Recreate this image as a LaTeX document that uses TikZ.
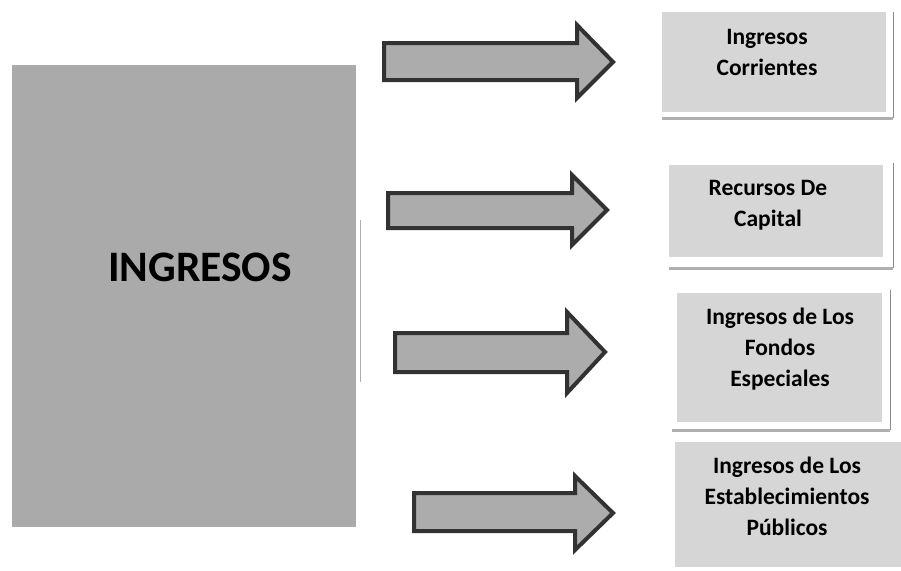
\documentclass[tikz,border=0pt]{standalone}
\usepackage{fontspec}
\setmainfont{Carlito}
\definecolor{bigfill}{RGB}{170,170,170}
\definecolor{smallfill}{RGB}{214,214,214}
\definecolor{arrowfill}{RGB}{172,172,172}
\definecolor{arrowline}{RGB}{50,50,50}
\definecolor{shadowcol}{RGB}{175,175,175}
\begin{document}
\begin{tikzpicture}[x=1pt,y=-1pt,
  bigbox/.style={fill=bigfill,draw=none,inner sep=0pt,anchor=north west},
  smallbox/.style={fill=smallfill,draw=none,inner sep=0pt,anchor=north west},
  boxtext/.style={font=\fontsize{23.5}{31}\selectfont\bfseries,align=center,inner sep=0pt,text=black},
  blockarrow/.style={fill=arrowfill,draw=arrowline,line width=4pt,line join=miter},
  shadowline/.style={draw=shadowcol,line width=3pt},
  edgeline/.style={draw=shadowcol!80!black,line width=0.8pt}]
\useasboundingbox (0,0) rectangle (901,570);
\fill[white] (0,0) rectangle (901,570);
% main box
\node[bigbox,minimum width=344pt,minimum height=462pt] (ing) at (12,65) {};
\node[font=\fontsize{43.5}{50}\selectfont\bfseries,inner sep=0pt] (ingt) at (200,267) {INGRESOS};
\draw[draw=shadowcol,line width=1pt] (360,220) -- (360,382);
% small boxes
\node[smallbox,minimum width=224pt,minimum height=100pt] (b1) at (662,12) {};
\node[smallbox,minimum width=214pt,minimum height=92pt] (b2) at (669,165) {};
\node[smallbox,minimum width=205pt,minimum height=129pt] (b3) at (677,293) {};
\node[smallbox,minimum width=226pt,minimum height=125pt] (b4) at (675,442) {};
% shadows / edges
\draw[shadowline] (662,118) -- (893,118);
\draw[edgeline] (893,12) -- (893,118);
\draw[shadowline] (669,268) -- (893,268);
\draw[edgeline] (893,163) -- (893,268);
\draw[shadowline] (672,430) -- (890,430);
\draw[edgeline] (890,290) -- (890,430);
% texts
\node[boxtext] (t1) at (767,52) {Ingresos\\Corrientes};
\node[boxtext] (t2) at (768,205) {Recursos De\\Capital};
\node[boxtext] (t3) at (780,349) {Ingresos de Los\\Fondos\\Especiales};
\node[boxtext] (t4) at (787,496) {Ingresos de Los\\Establecimientos\\Públicos};
% arrows
\draw[blockarrow] (384,43) -- (577,43) -- (577,25) -- (613,62) -- (577,98) -- (577,80) -- (384,80) -- cycle;
\draw[blockarrow] (388,193) -- (572,193) -- (572,175) -- (607,210) -- (572,245) -- (572,228) -- (388,228) -- cycle;
\draw[blockarrow] (395,333) -- (567,333) -- (567,312) -- (605,352) -- (567,393) -- (567,372) -- (395,372) -- cycle;
\draw[blockarrow] (414,493) -- (575,493) -- (575,476) -- (613,513) -- (575,550) -- (575,531) -- (414,531) -- cycle;
\end{tikzpicture}
\end{document}
